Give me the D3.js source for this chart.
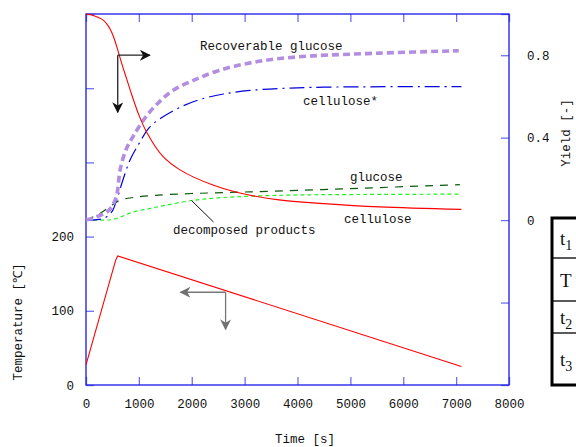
<!DOCTYPE html>
<html>
<head>
<meta charset="utf-8">
<script src="https://cdn.jsdelivr.net/npm/d3@7"></script>
<style>
  body { margin: 0; background: #fff; }
  svg text { font-family: "Liberation Mono", "DejaVu Sans Mono", monospace; font-size: 12.5px; fill: #111; }
  .tbl text { font-family: "Liberation Serif", serif; font-size: 19px; }
</style>
</head>
<body>
<svg id="chart" width="576" height="447"></svg>
<script>
// time [s]
const tempTime = [0, 560, 600, 7100]
const tempValue = [27, 168, 174, 25]

const celluloseTime = [0, 150, 300, 400, 450, 500, 550, 600, 650, 700, 775, 850, 1000, 1150, 1450, 1800, 2400, 2850, 3650, 4500, 5550, 7100]
const celluloseValue = [1.0, 0.992, 0.975, 0.95, 0.93, 0.903, 0.868, 0.826, 0.782, 0.74, 0.68, 0.62, 0.51, 0.425, 0.31, 0.24, 0.17, 0.135, 0.098, 0.08, 0.064, 0.052]

const recTime = [0, 200, 400, 500, 580, 650, 770, 900, 1100, 1350, 1650, 2050, 2500, 3050, 3600, 4300, 5550, 7050]
const recValue = [0, 0.016, 0.04, 0.07, 0.12, 0.25, 0.35, 0.41, 0.49, 0.565, 0.63, 0.68, 0.725, 0.76, 0.782, 0.797, 0.81, 0.822]

const cellStarTime = [0, 200, 300, 400, 500, 580, 680, 830, 1000, 1200, 1450, 1800, 2150, 2600, 3100, 3700, 4500, 7100]
const cellStarValue = [0, 0.002, 0.006, 0.018, 0.045, 0.097, 0.18, 0.29, 0.37, 0.45, 0.50, 0.55, 0.585, 0.612, 0.629, 0.639, 0.645, 0.648]

const glucoseTime = [0, 250, 500, 650, 900, 1300, 2000, 3100, 5000, 7070]
const glucoseValue = [0, 0.03, 0.075, 0.097, 0.11, 0.12, 0.129, 0.137, 0.153, 0.172]

const decompTime = [0, 300, 500, 700, 900, 1200, 1500, 2000, 2500, 3100, 4000, 5000, 7070]
const decompValue = [0, 0, 0.003, 0.02, 0.04, 0.056, 0.072, 0.095, 0.108, 0.116, 0.122, 0.124, 0.126]

const xTicks = [0, 1000, 2000, 3000, 4000, 5000, 6000, 7000, 8000]
const tempTicks = [0, 100, 200, 300, 400, 500]
const tempLabels = [0, 100, 200]
const yieldTicks = [-0.8, -0.4, 0, 0.4, 0.8, 1.0]
const yieldLabels = [0, 0.4, 0.8]
const tableRows = ['t1', 'T', 't2', 't3']

const zip = (a, b) => a.map((d, i) => [d, b[i]])

const svg = d3.select('#chart')
const margin = {top: 14, right: 67, bottom: 62, left: 86}
const W = 576, H = 447

const x = d3.scaleLinear().domain([0, 8000]).range([margin.left, W - margin.right])
const yT = d3.scaleLinear().domain([0, 500]).range([H - margin.bottom, margin.top])
const yY = d3.scaleLinear().domain([-0.8, 1.0]).range([H - margin.bottom, margin.top])

const tickCol = '#6f6ff0'
// axes with inward ticks
const gB = svg.append('g').attr('transform', 'translate(0,' + (H - margin.bottom) + ')')
  .call(d3.axisBottom(x).tickValues(xTicks).tickSize(-8).tickPadding(14).tickFormat(d3.format('d')))
const gT = svg.append('g').attr('transform', 'translate(0,' + margin.top + ')')
  .call(d3.axisTop(x).tickValues(xTicks).tickSize(-8).tickFormat(''))
const gL = svg.append('g').attr('transform', 'translate(' + margin.left + ',0)')
  .call(d3.axisLeft(yT).tickValues(tempTicks).tickSize(-8).tickPadding(12)
    .tickFormat(d => tempLabels.includes(d) ? d : ''))
const gR = svg.append('g').attr('transform', 'translate(' + (W - margin.right) + ',0)')
  .call(d3.axisRight(yY).tickValues(yieldTicks).tickSize(-8).tickPadding(18)
    .tickFormat(d => yieldLabels.includes(d) ? (d === 0 ? '0' : d3.format('.1f')(d)) : ''))

;[gB, gT, gL, gR].forEach(g => {
  g.select('.domain').remove()
  g.selectAll('.tick line').attr('stroke', tickCol).attr('stroke-width', 1.3)
  g.selectAll('.tick text').attr('font-family', null).attr('font-size', null)
})

svg.append('rect')
  .attr('x', margin.left).attr('y', margin.top)
  .attr('width', W - margin.left - margin.right).attr('height', H - margin.top - margin.bottom)
  .attr('fill', 'none').attr('stroke', '#1818e8').attr('stroke-width', 1.3)

const plot = svg.append('g')
const smooth = d3.line().x(d => x(d[0])).y(d => yY(d[1])).curve(d3.curveCatmullRom.alpha(0.5))

plot.append('path').datum(zip(decompTime, decompValue))
  .attr('d', smooth).attr('fill', 'none').attr('stroke', '#22ee22').attr('stroke-width', 1.2)
  .attr('stroke-dasharray', '4,3')
plot.append('path').datum(zip(glucoseTime, glucoseValue))
  .attr('d', smooth).attr('fill', 'none').attr('stroke', '#0a5a0a').attr('stroke-width', 1.2)
  .attr('stroke-dasharray', '8,7')
plot.append('path').datum(zip(cellStarTime, cellStarValue))
  .attr('d', smooth).attr('fill', 'none').attr('stroke', '#0000dd').attr('stroke-width', 1.2)
  .attr('stroke-dasharray', '15,5,2,5')
plot.append('path').datum(zip(recTime, recValue))
  .attr('d', smooth).attr('fill', 'none').attr('stroke', '#b38ddf').attr('stroke-width', 3.6)
  .attr('stroke-dasharray', '7,4')
plot.append('path').datum(zip(celluloseTime, celluloseValue))
  .attr('d', smooth).attr('fill', 'none').attr('stroke', '#ff0000').attr('stroke-width', 1.1)

const tLine = d3.line().x(d => x(d[0])).y(d => yT(d[1]))
plot.append('path').datum(zip(tempTime, tempValue))
  .attr('d', tLine).attr('fill', 'none').attr('stroke', '#ff0000').attr('stroke-width', 1.1)

// arrows
const defs = svg.append('defs')
function head(id, col) {
  defs.append('marker').attr('id', id).attr('viewBox', '0 0 10 10')
    .attr('refX', 9).attr('refY', 5).attr('markerWidth', 11).attr('markerHeight', 11)
    .attr('markerUnits', 'userSpaceOnUse').attr('orient', 'auto')
    .append('path').attr('d', 'M0,0 L10,5 L0,10 L3,5 Z').attr('fill', col)
}
head('hk', '#111')
head('hg', '#707070')

function arrows(px, py, dx, dy, col, id) {
  const g = plot.append('g').attr('stroke', col).attr('stroke-width', 1.3).attr('fill', 'none')
  g.append('line').attr('x1', px).attr('y1', py).attr('x2', px + dx).attr('y2', py)
    .attr('marker-end', 'url(#' + id + ')')
  g.append('line').attr('x1', px).attr('y1', py).attr('x2', px).attr('y2', py + dy)
    .attr('marker-end', 'url(#' + id + ')')
}
arrows(x(600), yY(0.80), 32, 57, '#222', 'hk')
arrows(x(2640), yT(125), -45, 37, '#777', 'hg')

// curve labels
const labels = [
  {t: 'Recoverable glucose', px: 200, py: 50},
  {t: 'cellulose*', px: 303, py: 105},
  {t: 'glucose', px: 350, py: 181},
  {t: 'cellulose', px: 344, py: 223},
  {t: 'decomposed products', px: 173, py: 234}
]
svg.append('g').selectAll('text').data(labels).join('text')
  .attr('x', d => d.px).attr('y', d => d.py).text(d => d.t)
svg.append('line').attr('x1', 191.5).attr('y1', 200.5).attr('x2', 213.5).attr('y2', 222)
  .attr('stroke', '#111').attr('stroke-width', 1)

// axis titles
svg.append('text').attr('x', 305).attr('y', 443).attr('text-anchor', 'middle').text('Time [s]')
svg.append('text').attr('transform', 'translate(22,322) rotate(-90)').attr('text-anchor', 'middle')
  .text('Temperature [℃]')
svg.append('text').attr('transform', 'translate(570,133) rotate(-90)').attr('text-anchor', 'middle')
  .text('Yield [-]')

// cropped table on the right
const rowEdges = [218, 258, 301, 333, 385]
const tbl = svg.append('g').attr('class', 'tbl')
tbl.append('rect').attr('x', 552).attr('y', rowEdges[0]).attr('width', 40)
  .attr('height', rowEdges[4] - rowEdges[0]).attr('fill', 'none').attr('stroke', '#000').attr('stroke-width', 3)
tbl.selectAll('line').data(rowEdges.slice(1, 4)).join('line')
  .attr('x1', 552).attr('x2', 576).attr('y1', d => d).attr('y2', d => d)
  .attr('stroke', '#000').attr('stroke-width', 1.3)
tableRows.forEach((r, i) => {
  const cy = (rowEdges[i] + rowEdges[i + 1]) / 2
  const tx = tbl.append('text').attr('x', 560).attr('y', cy + 7)
  tx.append('tspan').text(r[0])
  if (r.length > 1) tx.append('tspan').attr('dy', 5).attr('font-size', 14).text(r.slice(1))
})
</script>
</body>
</html>
